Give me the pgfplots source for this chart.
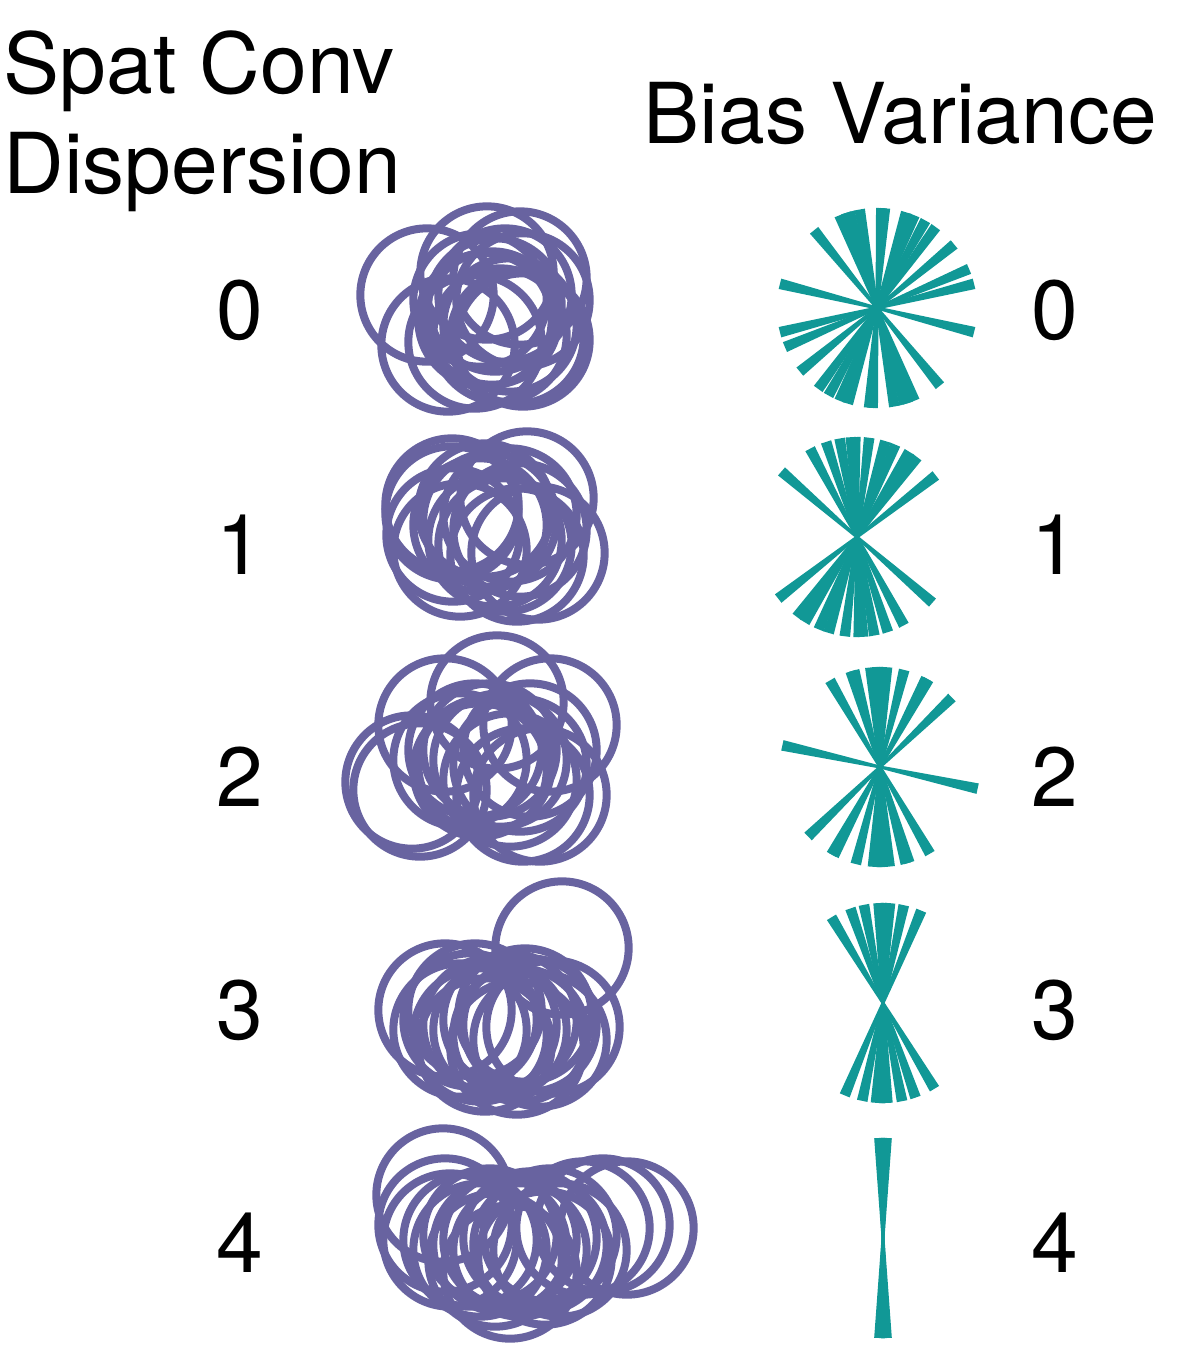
\documentclass[border=0pt]{standalone}
\usepackage{pgfplots}
\usepackage{pgfplotstable}
\pgfplotsset{compat=1.18}
\usepackage{fontspec}
\setmainfont{TeX Gyre Heros}
\definecolor{circpurple}{RGB}{104,99,160}
\definecolor{wedgeteal}{RGB}{17,152,150}
\tikzset{lab/.style={font=\fontsize{25.2}{30}\selectfont, inner sep=0pt}}
% double wedge (bow tie) of half-length 100 px = 30pt
\pgfdeclareplotmark{bowtie}{%
  \pgfpathmoveto{\pgfpoint{0pt}{0.45pt}}%
  \pgfpathlineto{\pgfpoint{30pt}{1.6pt}}%
  \pgfpathlineto{\pgfpoint{30pt}{-1.6pt}}%
  \pgfpathlineto{\pgfpoint{0pt}{-0.45pt}}%
  \pgfpathlineto{\pgfpoint{-30pt}{-1.6pt}}%
  \pgfpathlineto{\pgfpoint{-30pt}{1.6pt}}%
  \pgfpathclose
  \pgfusepathqfill}

\pgfplotstableread{
x y
427 295
448 345
487 273
523 300
523 340
475 342
517 337
520 278
495 305
485 320
505 295
510 325
480 300
500 335
492 318
527 498
538 553
452 513
453 535
452 505
517 555
460 550
490 520
480 525
510 515
495 540
520 530
485 510
505 545
497 702
550 725
445 725
412 782
420 790
540 795
523 795
460 760
480 770
500 760
520 765
490 750
510 780
530 750
485 765
475 750
562 948
445 1010
553 1027
517 1048
460 1030
470 1020
480 1035
490 1025
500 1030
510 1020
520 1035
530 1025
540 1040
485 1045
525 1015
475 1010
443 1195
445 1225
450 1240
627 1228
603 1225
583 1228
510 1272
470 1240
480 1250
490 1235
500 1245
510 1240
520 1250
530 1238
540 1245
550 1235
560 1250
495 1260
545 1258
}\circtable

\pgfplotstableread{
x y a
877 308 166
877 308 14
877 308 23
877 308 39.5
877 308 54
877 308 61
877 308 68
877 308 73
877 308 85.5
877 308 87.5
877 308 100
877 308 106
877 308 108
877 308 112
877 308 129
857 537 38
857 537 53
857 537 58.5
857 537 67.5
857 537 73.5
857 537 83
857 537 91
857 537 93.5
857 537 100
857 537 108
857 537 118
857 537 139
880 767 44
880 767 61
880 767 62.5
880 767 76
880 767 86
880 767 89
880 767 91.5
880 767 95.5
880 767 105
880 767 107
880 767 120
880 767 167.5
883 1003 67.5
883 1003 78
883 1003 86
883 1003 88.5
883 1003 90.5
883 1003 92.5
883 1003 101
883 1003 109
883 1003 121
883 1238 88
883 1238 89.3
883 1238 90.7
883 1238 92
}\wedgetable

\begin{document}
\begin{tikzpicture}
\begin{axis}[
  width=354pt, height=405pt, scale only axis,
  xmin=0, xmax=1180, ymin=0, ymax=1350, y dir=reverse,
  axis lines=none, clip=false,
]
\path (rel axis cs:0,0) rectangle (rel axis cs:1,1);
\addplot[only marks, mark=o, mark size=20pt,
  mark options={draw=circpurple, line width=2.4pt}] table {\circtable};
\addplot[scatter, only marks, mark=bowtie,
  scatter/use mapped color={draw=none, fill=wedgeteal},
  visualization depends on={\thisrow{a} \as \ang},
  scatter/@pre marker code/.append style={/tikz/rotate=\ang}] table[x=x, y=y] {\wedgetable};
\node[lab, anchor=base west] at (axis cs:3,93) {Spat Conv};
\node[lab, anchor=base west] at (axis cs:3,193) {Dispersion};
\node[lab, anchor=base west] at (axis cs:643,143) {Bias Variance};
\node[lab] at (axis cs:240,310) {0};
\node[lab] at (axis cs:240,545) {1};
\node[lab] at (axis cs:240,777) {2};
\node[lab] at (axis cs:240,1010) {3};
\node[lab] at (axis cs:240,1243) {4};
\node[lab] at (axis cs:1055,310) {0};
\node[lab] at (axis cs:1055,545) {1};
\node[lab] at (axis cs:1055,777) {2};
\node[lab] at (axis cs:1055,1010) {3};
\node[lab] at (axis cs:1055,1243) {4};
\end{axis}
\end{tikzpicture}
\end{document}
